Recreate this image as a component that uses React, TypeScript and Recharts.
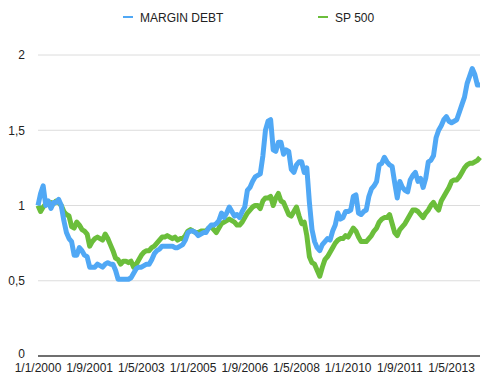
import React from 'react';
import { LineChart, Line, XAxis, YAxis, CartesianGrid } from 'recharts';

const START_YEAR = 2000;
const MONTH_COUNT = 172;
const categories: string[] = Array.from(
  { length: MONTH_COUNT },
  (_, i) => `1/${(i % 12) + 1}/${START_YEAR + Math.floor(i / 12)}`
);

const marginDebt: number[] = [
  1.00, 1.08, 1.13, 1.00, 1.03, 0.98, 1.02, 1.02, 1.04, 1.00,
  0.90, 0.82, 0.78, 0.76, 0.67, 0.67, 0.72, 0.70, 0.67, 0.66,
  0.59, 0.59, 0.59, 0.61, 0.60, 0.59, 0.61, 0.62, 0.61, 0.61,
  0.57, 0.51, 0.51, 0.51, 0.51, 0.51, 0.52, 0.55, 0.58, 0.59,
  0.59, 0.60, 0.61, 0.61, 0.64, 0.68, 0.70, 0.71, 0.73, 0.73,
  0.73, 0.73, 0.73, 0.72, 0.72, 0.73, 0.74, 0.77, 0.82, 0.83,
  0.83, 0.82, 0.80, 0.81, 0.82, 0.82, 0.85, 0.87, 0.87, 0.88,
  0.90, 0.95, 0.92, 0.95, 0.99, 0.96, 0.93, 0.94, 0.92, 0.96,
  0.99, 1.10, 1.12, 1.16, 1.19, 1.20, 1.21, 1.33, 1.50, 1.56,
  1.57, 1.37, 1.36, 1.42, 1.42, 1.34, 1.37, 1.36, 1.24, 1.22,
  1.27, 1.29, 1.29, 1.22, 1.25, 1.02, 0.84, 0.76, 0.72, 0.70,
  0.74, 0.76, 0.78, 0.77, 0.83, 0.87, 0.95, 0.91, 0.92, 0.96,
  0.96, 0.97, 1.06, 1.07, 0.95, 0.94, 0.96, 0.97, 1.06, 1.11,
  1.13, 1.16, 1.27, 1.28, 1.32, 1.29, 1.27, 1.26, 1.15, 1.05,
  1.16, 1.12, 1.10, 1.09, 1.17, 1.20, 1.22, 1.16, 1.18, 1.12,
  1.18, 1.29, 1.30, 1.33, 1.45, 1.50, 1.53, 1.57, 1.59, 1.56,
  1.55, 1.56, 1.57, 1.62, 1.67, 1.72, 1.81, 1.86, 1.91, 1.87,
  1.80, 1.80,
];

const sp500: number[] = [
  1.00, 0.96, 0.99, 1.01, 1.01, 1.02, 1.01, 1.03, 1.02, 1.00,
  0.96, 0.94, 0.93, 0.86, 0.85, 0.89, 0.87, 0.84, 0.83, 0.81,
  0.73, 0.76, 0.78, 0.79, 0.78, 0.77, 0.81, 0.78, 0.74, 0.70,
  0.65, 0.64, 0.61, 0.63, 0.63, 0.62, 0.63, 0.59, 0.61, 0.64,
  0.67, 0.69, 0.70, 0.70, 0.72, 0.73, 0.75, 0.77, 0.79, 0.79,
  0.80, 0.79, 0.78, 0.79, 0.77, 0.78, 0.78, 0.80, 0.83, 0.84,
  0.83, 0.82, 0.82, 0.83, 0.83, 0.83, 0.85, 0.86, 0.84, 0.82,
  0.85, 0.88, 0.89, 0.90, 0.91, 0.90, 0.89, 0.87, 0.87, 0.89,
  0.92, 0.95, 0.97, 0.99, 1.00, 1.00, 0.98, 1.03, 1.05, 1.05,
  1.06, 1.00, 1.05, 1.08, 1.03, 1.02, 0.98, 0.94, 0.93, 0.96,
  0.99, 0.93, 0.88, 0.89, 0.80, 0.66, 0.62, 0.61, 0.57, 0.53,
  0.59, 0.64, 0.66, 0.69, 0.72, 0.75, 0.77, 0.78, 0.78, 0.80,
  0.79, 0.82, 0.85, 0.83, 0.79, 0.76, 0.76, 0.76, 0.78, 0.80,
  0.83, 0.85, 0.89, 0.91, 0.92, 0.92, 0.94, 0.88, 0.82, 0.80,
  0.84, 0.86, 0.88, 0.91, 0.94, 0.97, 0.97, 0.96, 0.94, 0.92,
  0.95, 0.97, 1.00, 1.02, 0.99, 0.97, 1.03, 1.06, 1.09, 1.12,
  1.16, 1.17, 1.17, 1.19, 1.22, 1.25, 1.27, 1.28, 1.28, 1.29,
  1.30, 1.32,
];

const yTicks: number[] = [0, 0.5, 1, 1.5, 2];
const seriesNames: string[] = ['MARGIN DEBT', 'SP 500'];
const seriesColors: string[] = ['#50A8F5', '#6BBE3B'];

const data = categories.map((date, i) => ({
  date,
  margin: marginDebt[i],
  sp: sp500[i],
}));

const FONT = '"Liberation Sans", Arial, Helvetica, sans-serif';

const YTick = (props: any) => {
  const { x, y, payload } = props;
  const isZero = payload.value === 0;
  return (
    <text
      x={x}
      y={isZero ? y - 2.5 : y}
      dy="0.355em"
      textAnchor="end"
      fontSize={12}
      fill="#222"
      fontFamily={FONT}
    >
      {String(payload.value).replace('.', ',')}
    </text>
  );
};

export default function App() {
  return (
    <div style={{ position: 'absolute', left: 0, top: 0, width: 486, height: 380, background: '#fff', fontFamily: FONT }}>
      <svg width={486} height={30} style={{ position: 'absolute', left: 0, top: 0 }}>
        <line x1={123} x2={133} y1={17} y2={17} stroke={seriesColors[0]} strokeWidth={2} />
        <text x={140} y={21.7} fontSize={12} fill="#222" fontFamily={FONT}>{seriesNames[0]}</text>
        <line x1={318} x2={328} y1={17} y2={17} stroke={seriesColors[1]} strokeWidth={2} />
        <text x={335} y={21.7} fontSize={12} fill="#222" fontFamily={FONT}>{seriesNames[1]}</text>
      </svg>
      <div style={{ position: 'absolute', left: 0, top: 0 }}>
        <LineChart width={486} height={380} data={data} margin={{ top: 55, right: 6, bottom: 4, left: 0 }}>
          <CartesianGrid vertical={false} stroke="#dcdcdc" strokeWidth={1} />
          <XAxis
            dataKey="date"
            interval={19}
            tickLine={false}
            tickSize={6}
            tickMargin={1}
            height={20}
            axisLine={{ stroke: '#444', strokeWidth: 1.5 }}
            tick={{ fontSize: 12, fill: '#222', fontFamily: FONT }}
          />
          <YAxis
            domain={[0, 2]}
            ticks={yTicks}
            width={38}
            axisLine={false}
            tickLine={false}
            tickMargin={7}
            tick={<YTick />}
          />
          <Line
            type="linear"
            dataKey="sp"
            name={seriesNames[1]}
            stroke={seriesColors[1]}
            strokeWidth={5}
            strokeLinejoin="round"
            dot={false}
            isAnimationActive={false}
          />
          <Line
            type="linear"
            dataKey="margin"
            name={seriesNames[0]}
            stroke={seriesColors[0]}
            strokeWidth={5}
            strokeLinejoin="round"
            dot={false}
            isAnimationActive={false}
          />
        </LineChart>
      </div>
    </div>
  );
}
